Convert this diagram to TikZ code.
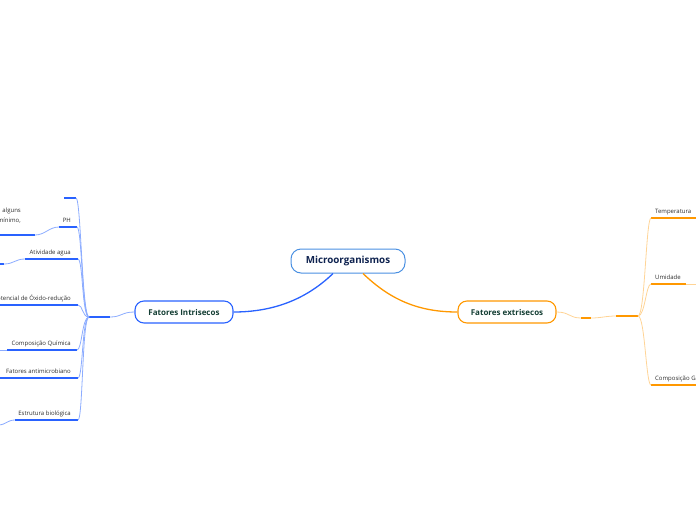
\documentclass[tikz,border=0pt]{standalone}
\usepackage{fontspec}
\setmainfont{Open Sans}
\usetikzlibrary{calc}
\definecolor{blueM}{RGB}{41,98,255}
\definecolor{blueL}{RGB}{140,172,255}
\definecolor{oranM}{RGB}{255,152,0}
\definecolor{oranL}{RGB}{255,212,150}
\definecolor{cenb}{RGB}{74,144,226}
\definecolor{cent}{RGB}{15,35,80}
\definecolor{brt}{RGB}{20,62,52}
\definecolor{txtc}{RGB}{45,45,45}
\begin{document}
\begin{tikzpicture}[x=1pt,y=-1pt,
  txt/.style={font=\fontsize{6}{10}\selectfont, text=txtc, inner sep=0pt},
  rootbox/.style={draw=cenb, line width=1pt, rounded corners=10pt, fill=white, minimum width=114pt, minimum height=24pt, font=\fontsize{9.8}{11}\selectfont\bfseries, text=cent},
  brbox/.style={line width=1.1pt, rounded corners=9pt, fill=white, minimum width=98pt, minimum height=22pt, font=\fontsize{8}{9}\selectfont\bfseries, text=brt},
  ulB/.style={draw=blueM, line width=1.6pt},
  lnB/.style={draw=blueL, line width=0.8pt},
  ulO/.style={draw=oranM, line width=1.6pt},
  lnO/.style={draw=oranL, line width=0.8pt}
]
\useasboundingbox (0,0) rectangle (696,520);

% main nodes
\node[rootbox] (root) at (348,261) {Microorganismos};
\node[brbox, draw=blueM] (fi) at (184,312) {Fatores Intrisecos};
\node[brbox, draw=oranM] (fe) at (507,312) {Fatores extrisecos};

\draw[blueM, line width=1.3pt] ([xshift=-15pt]root.south) .. controls +(-28,27) and +(38,0) .. (fi.east);
\draw[oranM, line width=1.3pt] ([xshift=15pt]root.south) .. controls +(28,27) and +(-38,0) .. (fe.west);

% ---------- left side ----------
\coordinate (hubL) at (89,317);
\coordinate (hubLb) at (110,317);
\draw[lnB] (fi.west) .. controls +(-13,0) and +(12,0) .. (hubLb);
\draw[ulB] (hubL) -- (hubLb);

% empty top node
\coordinate (aL) at (64,198); \coordinate (aR) at (76,198);
\draw[ulB] (aL) -- (aR);
\draw[lnB] (hubL) .. controls +(-7,0) and +(5,0) .. (aR);

% PH
\coordinate (bL) at (59,227); \coordinate (bR) at (77,227);
\node[txt, anchor=base east] (tb) at (71,222) {PH};
\draw[ulB] (bL) -- (bR);
\draw[lnB] (hubL) .. controls +(-7,0) and +(5,0) .. (bR);
\coordinate (bbL) at (-2,235); \coordinate (bbR) at (35,235);
\node[txt, align=right, anchor=east] (tbb) at (21,216) {alguns\\mínimo,};
\draw[ulB] (bbL) -- (bbR);
\draw[lnB] (bbR) .. controls +(10,0) and +(-10,0) .. (bL);

% Atividade agua
\coordinate (cL) at (25,259); \coordinate (cR) at (78,259);
\node[txt, anchor=base east] (tc) at (71,254.5) {Atividade agua};
\draw[ulB] (cL) -- (cR);
\draw[lnB] (hubL) .. controls +(-7,0) and +(5,0) .. (cR);
\coordinate (ccL) at (-2,264); \coordinate (ccR) at (4,264);
\draw[ulB] (ccL) -- (ccR);
\draw[lnB] (ccR) .. controls +(10,0) and +(-10,0) .. (cL);

% Potencial
\coordinate (dL) at (-2,305); \coordinate (dR) at (78,305);
\node[txt, anchor=base east] (td) at (71,300.5) {Potencial de Óxido-redução};
\draw[ulB] (dL) -- (dR);
\draw[lnB] (hubL) .. controls +(-7,0) and +(5,0) .. (dR);

% Composicao Quimica
\coordinate (eL) at (7,350); \coordinate (eR) at (77,350);
\coordinate (eeL) at (-2,350);
\node[txt, anchor=base east] (te) at (71,345.5) {Composição Química};
\draw[ulB] (eL) -- (eR);
\draw[lnB] (eeL) -- (eL);
\draw[lnB] (hubL) .. controls +(-7,0) and +(5,0) .. (eR);

% Fatores antimicrobiano
\coordinate (fL) at (-2,378); \coordinate (fR) at (78,378);
\node[txt, anchor=base east] (tf) at (71,373.5) {Fatores antimicrobiano};
\draw[ulB] (fL) -- (fR);
\draw[lnB] (hubL) .. controls +(-7,0) and +(5,0) .. (fR);

% Estrutura biologica
\coordinate (gL) at (15,420); \coordinate (gR) at (78,420);
\node[txt, anchor=base east] (tg) at (71,415.5) {Estrutura biológica};
\draw[ulB] (gL) -- (gR);
\draw[lnB] (hubL) .. controls +(-7,0) and +(5,0) .. (gR);
\coordinate (ggL) at (-2,425);
\draw[lnB] (gL) .. controls +(-8,0) and +(8,0) .. (ggL);

% ---------- right side ----------
\coordinate (r1L) at (581,318); \coordinate (r1R) at (591,318);
\coordinate (hubRa) at (616,316); \coordinate (hubR) at (638,316);
\draw[lnO] (fe.east) .. controls +(13,0) and +(-12,0) .. (r1L);
\draw[ulO] (r1L) -- (r1R);
\draw[lnO] (r1R) .. controls +(10,0) and +(-10,0) .. (hubRa);
\draw[ulO] (hubRa) -- (hubR);

% Temperatura
\coordinate (pL) at (651,218); \coordinate (pR) at (698,218);
\node[txt, anchor=base west] (tp) at (655,213.5) {Temperatura};
\draw[ulO] (pL) -- (pR);
\draw[lnO] (hubR) .. controls +(7,0) and +(-5,0) .. (pL);

% Umidade
\coordinate (qL) at (651,284); \coordinate (qR) at (686,284); \coordinate (qq) at (698,284);
\node[txt, anchor=base west] (tq) at (655,279.5) {Umidade};
\draw[ulO] (qL) -- (qR);
\draw[lnO] (qR) -- (qq);
\draw[lnO] (hubR) .. controls +(7,0) and +(-5,0) .. (qL);

% Composicao Gasosa
\coordinate (sL) at (651,385); \coordinate (sR) at (698,385);
\node[txt, anchor=base west] (ts) at (655,380.5) {Composição Gasosa};
\draw[ulO] (sL) -- (sR);
\draw[lnO] (hubR) .. controls +(7,0) and +(-5,0) .. (sL);
\end{tikzpicture}
\end{document}
